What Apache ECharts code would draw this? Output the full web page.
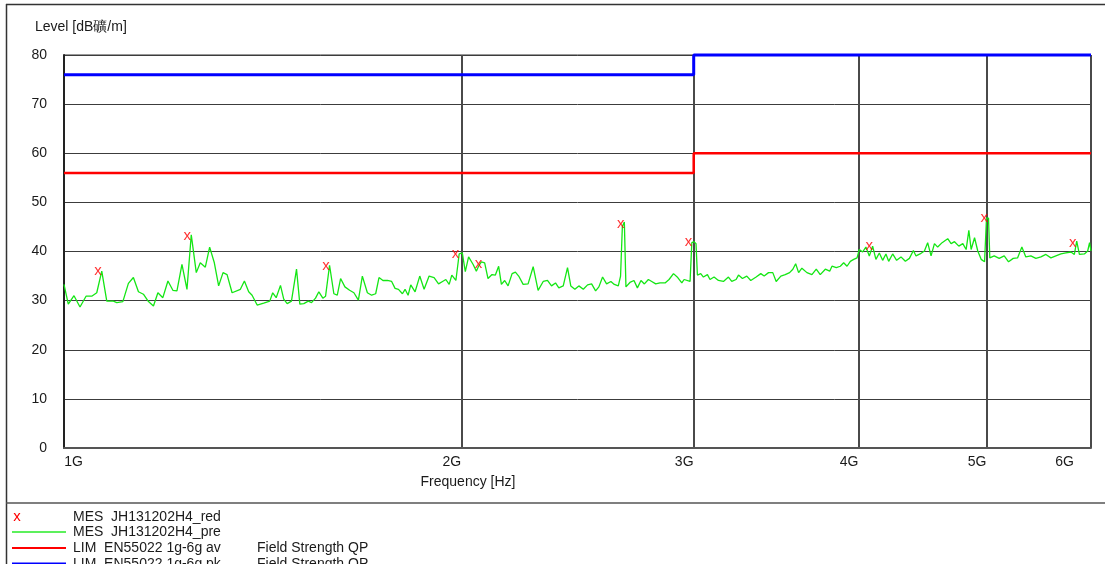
<!DOCTYPE html>
<html>
<head>
<meta charset="utf-8">
<title>Field Strength QP</title>
<script src="https://cdn.jsdelivr.net/npm/echarts@6/dist/echarts.min.js"></script>
<style>
  html, body { margin: 0; padding: 0; background: #fff; }
  #chart { width: 1105px; height: 564px; }
</style>
</head>
<body>
<div id="chart"></div>
<script>
// frequency in GHz, level in dBµV/m
const traceFreq = [
  1.000, 1.0075, 1.0176, 1.0283, 1.0392, 1.0496, 1.0588, 1.0681, 1.0775, 1.0900,
  1.0965, 1.1081, 1.1189, 1.1287, 1.1387, 1.1486, 1.1588, 1.1689, 1.1780, 1.1882,
  1.1988, 1.2092, 1.2178, 1.2285, 1.2393, 1.2486, 1.2596, 1.2684, 1.2796, 1.2893,
  1.2999, 1.3097, 1.3198, 1.3291, 1.3408, 1.3603, 1.3699, 1.3802, 1.3884, 1.4007,
  1.4168, 1.4319, 1.4393, 1.4480, 1.4589, 1.4672, 1.4761, 1.4871, 1.5003, 1.5090,
  1.5195, 1.5314, 1.5401, 1.5509, 1.5599, 1.5708, 1.5783, 1.5893, 1.6013, 1.6109,
  1.6202, 1.6325, 1.6459, 1.6583, 1.6713, 1.6829, 1.6977, 1.7104, 1.7225, 1.7325,
  1.7445, 1.7581, 1.7712, 1.7817, 1.7924, 1.8048, 1.8131, 1.8227, 1.8312, 1.8451,
  1.8602, 1.8743, 1.8908, 1.9073, 1.9222, 1.9356, 1.9468, 1.9581, 1.9672, 1.9812,
  1.9926, 2.0035, 2.0140, 2.0256, 2.0413, 2.0470, 2.0532, 2.0612, 2.0712, 2.0832,
  2.0954, 2.1102, 2.1225, 2.1347, 2.1449, 2.1573, 2.1700, 2.1854, 2.1980, 2.2106,
  2.2279, 2.2472, 2.2672, 2.2868, 2.3072, 2.3245, 2.3409, 2.3573, 2.3709, 2.3893,
  2.4072, 2.4210, 2.4383, 2.4552, 2.4744, 2.4929, 2.5105, 2.5281, 2.5426, 2.5591,
  2.5770, 2.5964, 2.6120, 2.6302, 2.6406, 2.6489, 2.6581, 2.6655, 2.6841, 2.7032,
  2.7193, 2.7363, 2.7528, 2.7719, 2.7882, 2.8077, 2.8286, 2.8538, 2.8737, 2.8961,
  2.9177, 2.9384, 2.9502, 2.9810, 2.9902, 3.0016, 3.0121, 3.0194, 3.0370, 3.0513,
  3.0727, 3.0866, 3.1084, 3.1323, 3.1596, 3.1875, 3.2059, 3.2303, 3.2438, 3.2664,
  3.2911, 3.3141, 3.3452, 3.3725, 3.3924, 3.4184, 3.4438, 3.4643, 3.4926, 3.5194,
  3.5464, 3.5665, 3.5840, 3.6026, 3.6233, 3.6552, 3.6872, 3.7152, 3.7411, 3.7744,
  3.8034, 3.8185, 3.8475, 3.8743, 3.8972, 3.9201, 3.9427, 3.9661, 3.9892, 4.0049,
  4.0280, 4.0513, 4.0755, 4.0991, 4.1227, 4.1474, 4.1714, 4.1954, 4.2154, 4.2449,
  4.2744, 4.3070, 4.3400, 4.3707, 4.4013, 4.4214, 4.4527, 4.4869, 4.5122, 4.5390,
  4.5660, 4.5918, 4.6273, 4.6728, 4.7005, 4.7286, 4.7644, 4.7977, 4.8254, 4.8484,
  4.8678, 4.8969, 4.9245, 4.9536, 4.9832, 5.0000, 5.0175, 5.0289, 5.0678, 5.1120,
  5.1570, 5.1961, 5.2386, 5.2783, 5.3183, 5.3552, 5.4025, 5.4497, 5.4978, 5.5458,
  5.5948, 5.6436, 5.6935, 5.7432, 5.7939, 5.8284, 5.8522, 5.8797, 5.9312, 5.9656,
  5.9850, 6.0000
]
const traceLevel = [
  33.3, 29.3, 31.0, 28.7, 30.9, 30.9, 31.6, 36.0, 29.9, 29.9,
  29.6, 29.8, 33.5, 34.7, 31.8, 31.3, 29.8, 28.9, 31.6, 30.6,
  34.0, 32.1, 32.0, 37.4, 32.3, 43.4, 35.7, 37.7, 36.8, 40.9,
  37.7, 33.0, 35.7, 35.3, 31.6, 32.3, 34.0, 31.8, 31.1, 29.1,
  29.5, 29.9, 31.6, 30.6, 33.1, 30.3, 29.4, 29.9, 36.4, 29.3,
  29.4, 29.9, 29.6, 30.5, 31.8, 30.5, 30.9, 37.2, 31.4, 31.1,
  34.5, 32.8, 32.1, 31.6, 30.1, 35.0, 31.6, 31.1, 31.4, 34.7,
  34.1, 34.1, 33.9, 32.5, 32.3, 31.4, 32.3, 31.1, 33.2, 31.8,
  35.0, 32.3, 35.0, 34.7, 33.4, 33.9, 34.3, 33.3, 35.2, 34.1,
  39.5, 39.7, 35.9, 38.9, 37.4, 37.2, 36.0, 37.0, 37.9, 37.7,
  34.5, 35.3, 35.2, 37.0, 33.3, 34.1, 33.0, 35.5, 35.8, 35.0,
  33.3, 33.4, 36.9, 32.1, 33.9, 34.1, 33.0, 33.6, 32.6, 33.0,
  36.7, 33.0, 32.3, 33.0, 32.3, 33.2, 33.4, 32.0, 32.8, 34.8,
  33.4, 33.9, 33.3, 33.0, 35.0, 45.1, 46.0, 32.8, 33.7, 34.1,
  32.6, 34.1, 33.4, 34.3, 33.9, 33.4, 33.6, 33.6, 34.3, 35.5,
  34.7, 33.6, 34.3, 33.9, 41.8, 42.0, 41.6, 35.2, 35.5, 34.8,
  35.3, 34.3, 34.8, 34.1, 33.9, 34.8, 33.9, 34.3, 35.2, 34.5,
  35.0, 34.1, 34.8, 35.5, 35.0, 35.7, 35.7, 33.9, 35.0, 35.3,
  35.7, 36.4, 37.5, 35.7, 36.6, 35.7, 35.3, 36.4, 35.3, 36.4,
  36.0, 37.0, 36.7, 37.0, 37.7, 37.0, 38.0, 38.4, 38.7, 40.4,
  39.9, 40.9, 39.1, 41.1, 38.4, 39.7, 38.2, 39.5, 38.0, 39.5,
  38.2, 38.9, 38.0, 38.6, 40.2, 39.1, 39.5, 40.1, 41.8, 39.1,
  41.6, 40.9, 41.8, 42.6, 41.6, 42.0, 41.1, 41.6, 40.4, 44.3,
  40.4, 42.8, 40.1, 38.4, 37.9, 46.8, 46.8, 38.7, 39.1, 38.6,
  39.1, 37.9, 38.6, 38.7, 40.9, 38.9, 39.1, 38.6, 38.9, 39.4,
  38.7, 39.1, 39.5, 39.7, 39.9, 39.4, 42.1, 39.4, 39.5, 40.1,
  41.8, 40.1
]
// final measurement points (red x)
const markFreq = [1.0613, 1.2399, 1.5792, 1.9802, 2.0612, 2.6420, 2.9728, 4.0755, 4.9810, 5.8110]
const markLevel = [36.0, 43.2, 37.0, 39.5, 37.5, 45.6, 42.0, 41.1, 46.8, 41.8]
// EN55022 limits
const limFreq = [1, 3, 3, 6]
const limAv = [56, 56, 60, 60]
const limPk = [76, 76, 80, 80]
const xTicks = [1, 2, 3, 4, 5, 6]

const font = 'Liberation Sans, Arial, sans-serif'
const textColor = '#1a1a1a'

const zip = (xs, ys) => xs.map((x, i) => [x, ys[i]])

const chart = echarts.init(document.getElementById('chart'))

// x tick labels sit left of their tick (1G right of it, 6G pulled inside the frame)
const labelPad = { 1: [0, 0, 0, 19], 6: [0, 53, 0, 0] }

const option = {
  backgroundColor: '#fff',
  animation: false,
  textStyle: { fontFamily: font },
  grid: {
    left: 64,
    right: 14,
    top: 55,
    bottom: 116,
    show: true,
    borderColor: '#333',
    borderWidth: 1,
  },
  xAxis: {
    type: 'log',
    logBase: 10,
    min: 1,
    max: 6,
    axisLine: { show: true, lineStyle: { color: '#555', width: 2 } },
    axisTick: { show: false, customValues: xTicks },
    splitLine: { show: true, lineStyle: { color: '#4a4a4a', width: 2 } },
    axisLabel: {
      customValues: xTicks,
      color: textColor,
      fontSize: 14,
      fontFamily: font,
      margin: 7,
      align: 'center',
      formatter: v => {
        const k = Math.round(v)
        return '{t' + k + '|' + k + 'G}'
      },
      rich: {
        t1: { padding: labelPad[1] },
        t2: { padding: [0, 19, 0, 0] },
        t3: { padding: [0, 19, 0, 0] },
        t4: { padding: [0, 19, 0, 0] },
        t5: { padding: [0, 19, 0, 0] },
        t6: { padding: labelPad[6] },
      },
    },
  },
  yAxis: {
    type: 'value',
    min: 0,
    max: 80,
    interval: 10,
    axisLine: { show: true, lineStyle: { color: '#222', width: 2 } },
    axisTick: { show: false },
    splitLine: { lineStyle: { color: '#3c3c3c', width: 1 } },
    axisLabel: { color: textColor, fontSize: 14, fontFamily: font, margin: 17 },
  },
  graphic: [
    { type: 'line', shape: { x1: 6, y1: 4.5, x2: 1105, y2: 4.5 }, style: { stroke: '#333', lineWidth: 1.5 } },
    { type: 'line', shape: { x1: 6.5, y1: 4, x2: 6.5, y2: 564 }, style: { stroke: '#333', lineWidth: 1.5 } },
    { type: 'line', shape: { x1: 6, y1: 503, x2: 1105, y2: 503 }, style: { stroke: '#555', lineWidth: 1.5 } },
    { type: 'text', x: 35, y: 27, style: { text: 'Level [dB礦/m]', fill: textColor, font: '14px ' + font, verticalAlign: 'middle' } },
    { type: 'text', x: 468, y: 482, style: { text: 'Frequency [Hz]', fill: textColor, font: '14px ' + font, align: 'center', verticalAlign: 'middle' } },
    // legend
    { type: 'text', x: 17, y: 517, style: { text: 'x', fill: '#ff0000', font: '15px ' + font, align: 'center', verticalAlign: 'middle' } },
    { type: 'text', x: 73, y: 517, style: { text: 'MES  JH131202H4_red', fill: textColor, font: '14px ' + font, verticalAlign: 'middle' } },
    { type: 'line', shape: { x1: 12, y1: 532, x2: 66, y2: 532 }, style: { stroke: '#5cf05c', lineWidth: 2 } },
    { type: 'text', x: 73, y: 532, style: { text: 'MES  JH131202H4_pre', fill: textColor, font: '14px ' + font, verticalAlign: 'middle' } },
    { type: 'line', shape: { x1: 12, y1: 548, x2: 66, y2: 548 }, style: { stroke: '#ff0000', lineWidth: 2 } },
    { type: 'text', x: 73, y: 548, style: { text: 'LIM  EN55022 1g-6g av', fill: textColor, font: '14px ' + font, verticalAlign: 'middle' } },
    { type: 'text', x: 257, y: 548, style: { text: 'Field Strength QP', fill: textColor, font: '14px ' + font, verticalAlign: 'middle' } },
    { type: 'line', shape: { x1: 12, y1: 563.5, x2: 66, y2: 563.5 }, style: { stroke: '#0000ff', lineWidth: 2 } },
    { type: 'text', x: 73, y: 564, style: { text: 'LIM  EN55022 1g-6g pk', fill: textColor, font: '14px ' + font, verticalAlign: 'middle' } },
    { type: 'text', x: 257, y: 564, style: { text: 'Field Strength QP', fill: textColor, font: '14px ' + font, verticalAlign: 'middle' } },
  ],
  series: [
    {
      name: 'MES  JH131202H4_pre',
      type: 'line',
      data: zip(traceFreq, traceLevel),
      symbol: 'none',
      lineStyle: { color: '#14e614', width: 1.3 },
      z: 2,
    },
    {
      name: 'LIM  EN55022 1g-6g av',
      type: 'line',
      data: zip(limFreq, limAv),
      symbol: 'none',
      clip: false,
      lineStyle: { color: '#ff0000', width: 2.5 },
      z: 3,
    },
    {
      name: 'LIM  EN55022 1g-6g pk',
      type: 'line',
      data: zip(limFreq, limPk),
      symbol: 'none',
      clip: false,
      lineStyle: { color: '#0000ff', width: 3 },
      z: 3,
    },
    {
      name: 'MES  JH131202H4_red',
      type: 'scatter',
      data: zip(markFreq, markLevel),
      symbolSize: 2,
      itemStyle: { color: 'rgba(255,0,0,0)' },
      label: {
        show: true,
        position: 'inside',
        formatter: 'x',
        color: '#ff0000',
        fontSize: 15,
        fontFamily: font,
        offset: [0, -1],
      },
      labelLayout: { hideOverlap: false },
      z: 4,
    },
  ],
}

chart.setOption(option)
</script>
</body>
</html>
